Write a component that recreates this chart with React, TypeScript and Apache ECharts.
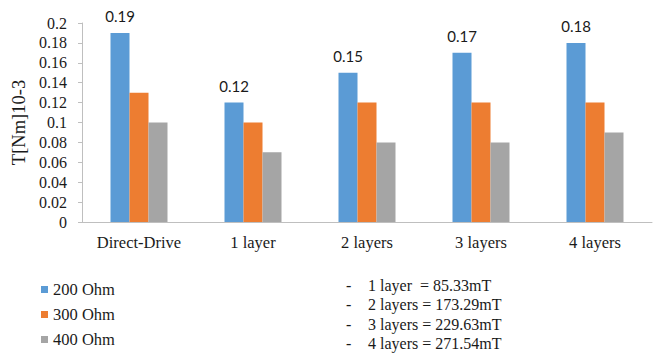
import React, { useEffect, useRef } from "react";
import * as echarts from "echarts";

const categories = ["Direct-Drive", "1 layer", "2 layers", "3 layers", "4 layers"];
const seriesNames = ["200 Ohm", "300 Ohm", "400 Ohm"];
const ohm200 = [0.19, 0.12, 0.15, 0.17, 0.18];
const ohm300 = [0.13, 0.1, 0.12, 0.12, 0.12];
const ohm400 = [0.1, 0.07, 0.08, 0.08, 0.09];
const colors = ["#5B9BD5", "#ED7D31", "#A5A5A5"];
const notes = [
  "1 layer  = 85.33mT",
  "2 layers = 173.29mT",
  "3 layers = 229.63mT",
  "4 layers = 271.54mT",
];

const serif = "Liberation Serif";
const ink = "#1a1a1a";

export default function App() {
  const ref = useRef<HTMLDivElement>(null);

  useEffect(() => {
    if (!ref.current) return;
    const chart = echarts.init(ref.current, null, { renderer: "svg" });
    const values = [ohm200, ohm300, ohm400];
    const noteY = [285, 304.5, 324, 343];

    chart.setOption({
      animation: false,
      backgroundColor: "#ffffff",
      textStyle: { fontFamily: serif },
      grid: { left: 82, right: 6, top: 23, bottom: 131 },
      legend: {
        orient: "vertical",
        left: 41,
        top: 281,
        padding: 0,
        itemWidth: 7,
        itemHeight: 7,
        itemGap: 8,
        icon: "rect",
        textStyle: { fontFamily: serif, fontSize: 16.5, color: ink, lineHeight: 17 },
        data: seriesNames,
      },
      xAxis: {
        type: "category",
        data: categories,
        axisLine: { lineStyle: { color: "#BFBFBF", width: 1 } },
        axisTick: { show: false },
        axisLabel: { fontFamily: serif, fontSize: 16.5, color: ink, margin: 12 },
      },
      yAxis: {
        type: "value",
        min: 0,
        max: 0.2,
        interval: 0.02,
        name: "T[Nm]10-3",
        nameLocation: "middle",
        nameGap: 49,
        nameRotate: 90,
        nameTextStyle: { fontFamily: serif, fontSize: 18.5, color: ink },
        axisLine: { show: true, lineStyle: { color: "#BFBFBF", width: 1 } },
        axisTick: { show: true, length: 4, lineStyle: { color: "#BFBFBF" } },
        splitLine: { show: false },
        axisLabel: {
          fontFamily: serif,
          fontSize: 16,
          color: ink,
          margin: 15,
          formatter: (v: number) => String(parseFloat(v.toFixed(2))),
        },
      },
      series: values.map((d, i) => ({
        name: seriesNames[i],
        type: "bar",
        data: d,
        barWidth: 19,
        barGap: "0%",
        itemStyle: { color: colors[i] },
        label:
          i === 0
            ? {
                show: true,
                position: "top",
                distance: 9,
                fontFamily: "Lato",
                fontSize: 15,
                color: ink,
                formatter: (p: any) => String(p.value),
              }
            : { show: false },
      })),
      graphic: notes.flatMap((t, i) => [
        {
          type: "text",
          x: 346,
          y: noteY[i],
          style: { text: "-", fontFamily: serif, fontSize: 16, fill: ink, verticalAlign: "middle" },
        },
        {
          type: "text",
          x: 368,
          y: noteY[i],
          style: { text: t, fontFamily: serif, fontSize: 16, fill: ink, verticalAlign: "middle" },
        },
      ]),
    });

    return () => chart.dispose();
  }, []);

  return (
    <div
      ref={ref}
      style={{ position: "fixed", left: 0, top: 0, width: 658, height: 353 }}
    />
  );
}
